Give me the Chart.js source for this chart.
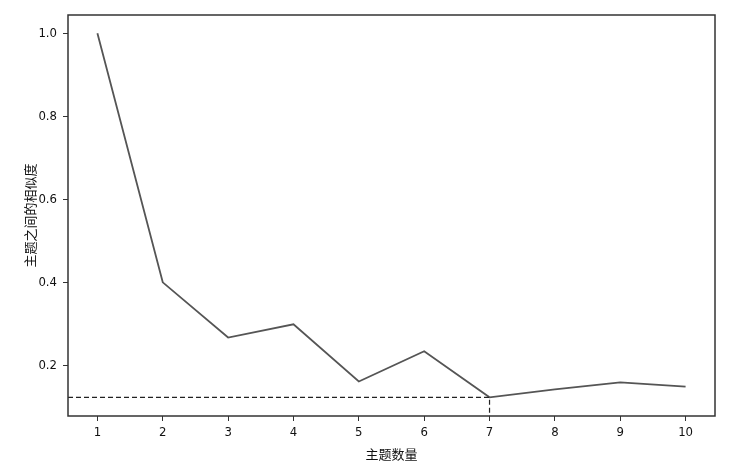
<!DOCTYPE html>
<html>
<head>
<meta charset="utf-8">
<script src="https://cdn.jsdelivr.net/npm/chart.js@4"></script>
<style>
  html, body { margin: 0; padding: 0; background: #fff; }
  #wrap { width: 733px; height: 476px; }
</style>
</head>
<body>
<div id="wrap"><canvas id="topicChart" width="733" height="476"></canvas></div>
<script>
// topic count vs similarity between topics
const topicCounts = [1, 2, 3, 4, 5, 6, 7, 8, 9, 10];
const similarity = [1.0, 0.40, 0.267, 0.299, 0.161, 0.234, 0.123, 0.142, 0.159, 0.149];
const xTicks = [1, 2, 3, 4, 5, 6, 7, 8, 9, 10];
const yTicks = [0.2, 0.4, 0.6, 0.8, 1.0];
const chosenTopic = 7;

const numFont = { family: "'Liberation Sans Narrow', 'DejaVu Sans Condensed', sans-serif", size: 13 };
const cjkFont = { family: "'Noto Sans CJK SC', sans-serif", size: 13 };

// frame around the plot + dashed guide to the chosen topic count
const framePlugin = {
  id: 'frame',
  afterDatasetsDraw(chart) {
    const { ctx, chartArea: a, scales } = chart;
    const i = topicCounts.indexOf(chosenTopic);
    const px = scales.x.getPixelForValue(chosenTopic);
    const py = scales.y.getPixelForValue(similarity[i]);
    ctx.save();
    ctx.strokeStyle = '#222';
    ctx.lineWidth = 1.2;
    ctx.setLineDash([5, 3]);
    ctx.beginPath();
    ctx.moveTo(a.left, py);
    ctx.lineTo(px, py);
    ctx.lineTo(px, a.bottom);
    ctx.stroke();
    ctx.setLineDash([]);
    ctx.strokeStyle = '#333';
    ctx.lineWidth = 1.5;
    ctx.strokeRect(a.left, a.top, a.right - a.left, a.bottom - a.top);
    ctx.restore();
  }
};

new Chart(document.getElementById('topicChart'), {
  type: 'line',
  data: {
    labels: topicCounts,
    datasets: [{
      data: topicCounts.map((t, i) => ({ x: t, y: similarity[i] })),
      borderColor: '#555',
      borderWidth: 1.8,
      pointRadius: 0,
      tension: 0,
      fill: false
    }]
  },
  options: {
    responsive: false,
    animation: false,
    layout: { padding: { top: 15, right: 18, left: 22, bottom: 14 } },
    plugins: { legend: { display: false }, tooltip: { enabled: false } },
    scales: {
      x: {
        type: 'linear',
        min: 0.55,
        max: 10.45,
        afterBuildTicks: s => { s.ticks = xTicks.map(v => ({ value: v })); },
        afterFit: s => { s.height = 46; },
        grid: { drawOnChartArea: false, drawTicks: true, tickLength: 5, color: '#333' },
        border: { display: false },
        ticks: { color: '#111', font: numFont, padding: 4, maxRotation: 0, callback: v => String(v) },
        title: { display: true, text: '主题数量', color: '#111', font: cjkFont, padding: { top: 2, bottom: 0 } }
      },
      y: {
        min: 0.078,
        max: 1.044,
        afterBuildTicks: s => { s.ticks = yTicks.map(v => ({ value: v })); },
        afterFit: s => { s.width = 46; },
        grid: { drawOnChartArea: false, drawTicks: true, tickLength: 5, color: '#333' },
        border: { display: false },
        ticks: { color: '#111', font: numFont, padding: 6, callback: v => v.toFixed(1) },
        title: { display: true, text: '主题之间的相似度', color: '#111', font: cjkFont, padding: { top: 0, bottom: 0 } }
      }
    }
  },
  plugins: [framePlugin]
});
</script>
</body>
</html>
